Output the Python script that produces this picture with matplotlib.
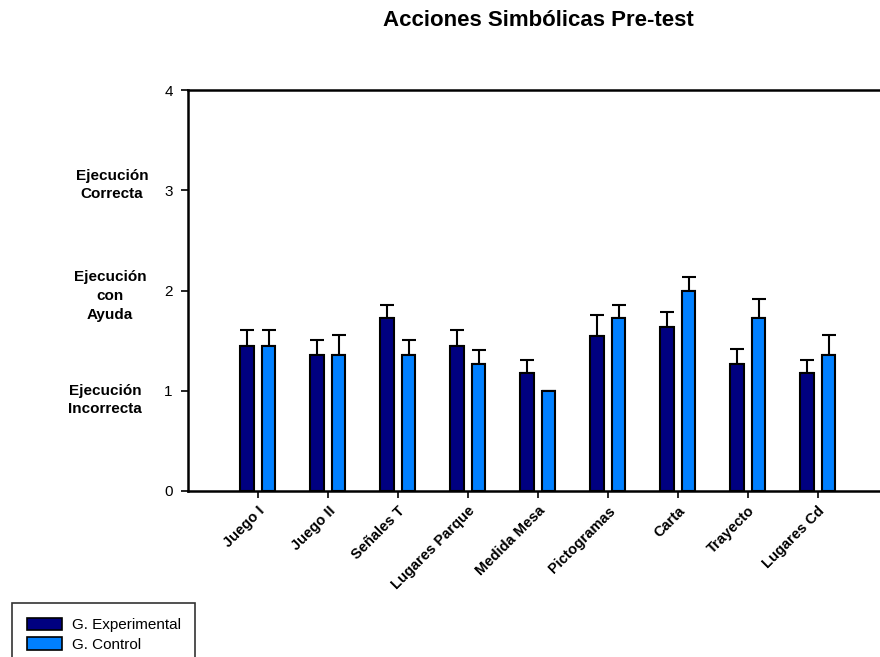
import numpy as np
import matplotlib.pyplot as plt
from matplotlib.patches import Patch

plt.rcParams['font.family'] = ['Liberation Sans', 'DejaVu Sans']

categorias = ["Juego I", "Juego II", "Señales T", "Lugares Parque", "Medida Mesa",
              "Pictogramas", "Carta", "Trayecto", "Lugares Cd"]
experimental = [1.45, 1.36, 1.73, 1.45, 1.18, 1.55, 1.64, 1.27, 1.18]
control = [1.45, 1.36, 1.36, 1.27, 1.00, 1.73, 2.00, 1.73, 1.36]
err_experimental = [0.16, 0.15, 0.13, 0.16, 0.13, 0.21, 0.15, 0.15, 0.13]
err_control = [0.16, 0.20, 0.15, 0.14, 0.00, 0.13, 0.13, 0.19, 0.20]

nombres_niveles = ["Ejecución\nCorrecta", "Ejecución\ncon\nAyuda", "Ejecución\nIncorrecta"]
# label centres in figure pixels (x, y from top)
pos_niveles = [(112, 185), (110, 296), (105, 400)]

fig = plt.figure(figsize=(8.8, 6.57), dpi=100)
W, H = 880, 657
ax = fig.add_axes([188 / W, 1 - 491 / H, 1 - 188 / W, (491 - 90) / H])

x = np.arange(1, len(categorias) + 1)
w = 0.19
off = 0.155
kw = dict(edgecolor="black", linewidth=1.5, zorder=2)
ax.bar(x - off, experimental, w, color="#000080", **kw)
ax.bar(x + off, control, w, color="#0080FF", **kw)

# one-sided error bars
zeros = np.zeros(len(categorias))
ax.errorbar(x - off, experimental, yerr=[zeros, err_experimental], fmt="none",
            ecolor="black", elinewidth=1.5, capsize=5, capthick=1.5, zorder=1)
ax.errorbar(x + off, control, yerr=[zeros, err_control], fmt="none",
            ecolor="black", elinewidth=1.5, capsize=5, capthick=1.5, zorder=1)

ax.set_xlim(0, 9.89)
ax.set_ylim(0, 4)
ax.set_yticks([0, 1, 2, 3, 4])
ax.set_xticks(x)
ax.set_xticklabels(categorias, rotation=45, ha="right", rotation_mode="anchor",
                   fontsize=10.5, fontweight="bold")
ax.tick_params(axis="y", direction="out", length=5, width=1.2, labelsize=11,
               pad=6, colors="black")
ax.tick_params(axis="x", direction="out", length=5, width=1.2, pad=4)
for s in ["left", "bottom", "top"]:
    ax.spines[s].set_linewidth(1.8)
ax.spines["right"].set_visible(False)

for (px, py), nombre in zip(pos_niveles, nombres_niveles):
    fig.text(px / W, 1 - py / H, nombre, ha="center", va="center",
             fontsize=11, fontweight="bold", multialignment="center",
             linespacing=1.45)

fig.text(538 / W, 1 - 20 / H, "Acciones Simbólicas Pre-test", ha="center",
         va="center", fontsize=16, fontweight="bold")

handles = [Patch(facecolor="#000080", edgecolor="black", linewidth=1.2),
           Patch(facecolor="#0080FF", edgecolor="black", linewidth=1.2)]
leg = fig.legend(handles, ["G. Experimental", "G. Control"], loc="upper left",
                 bbox_to_anchor=(12 / W, 1 - 603 / H), borderaxespad=0,
                 fontsize=11, frameon=True, fancybox=False, edgecolor="black",
                 handlelength=2.3, handleheight=0.9, borderpad=0.95,
                 labelspacing=0.35, handletextpad=0.65)
leg.get_frame().set_linewidth(1.2)

fig.savefig("out.png", dpi=100)
